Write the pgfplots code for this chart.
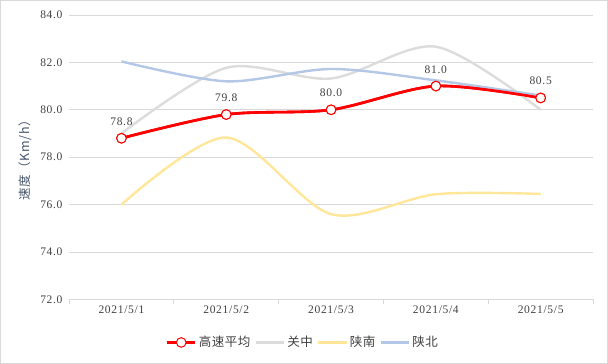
\documentclass[border=0pt]{standalone}
\usepackage{fontspec}
\setmainfont{Liberation Serif}[LetterSpace=6]
\newfontfamily\cjk{Noto Sans CJK SC}[LetterSpace=4]
\usepackage{pgfplots}
\pgfplotsset{compat=1.18}
\definecolor{cred}{HTML}{FF0000}
\definecolor{cgray}{HTML}{DCDCDC}
\definecolor{cyel}{HTML}{FFE699}
\definecolor{cblue}{HTML}{B4C7E7}
\definecolor{gridc}{HTML}{D9D9D9}
\definecolor{txt}{HTML}{404040}
\definecolor{ylab}{HTML}{44546A}
\begin{document}
\begin{tikzpicture}
\begin{axis}[
  name=ax,
  scale only axis,
  width=523pt, height=284pt,
  xmin=-0.5, xmax=4.5,
  ymin=72, ymax=84,
  ytick={72,74,...,84},
  xtick={0,1,2,3,4},
  xticklabels={2021/5/1,2021/5/2,2021/5/3,2021/5/4,2021/5/5},
  xtick pos=bottom,
  axis line style={draw=none},
  ymajorgrids,
  major grid style={gridc, line width=0.8pt},
  tick style={draw=none},
  extra x ticks={-0.5,0.5,1.5,2.5,3.5,4.5},
  extra x tick labels={},
  extra x tick style={grid=none, major tick length=5pt, tick align=outside,
     tick style={draw=gridc, line width=0.8pt}},
  /pgf/number format/assume math mode=true,
  yticklabel={\pgfmathprintnumber[fixed,fixed zerofill,precision=1]{\tick}},
  ticklabel style={font=\fontsize{11.5}{13}\selectfont, text=txt},
  xticklabel style={yshift=-3pt},
  yticklabel style={xshift=-3pt},
  ylabel={\cjk 速度（Km/h）},
  ylabel style={font=\fontsize{12.5}{14}\selectfont, text=ylab, yshift=2pt},
  legend style={at={(0.446,-0.151)}, anchor=center, draw=none, fill=none,
     legend columns=-1, font=\cjk\fontsize{12.5}{14}\selectfont, text=txt,
     /tikz/every even column/.append style={column sep=2pt}},
  legend image code/.code={
     \draw[#1] (0cm,0cm) -- (1.0cm,0cm);
     \draw[#1,mark repeat=2,mark phase=2] plot coordinates {(0cm,0cm) (0.5cm,0cm) (1.0cm,0cm)};
  },
  clip=false,
]
\addplot[cred, line width=2.6pt, smooth, mark=*, mark size=4.8pt,
  mark options={fill=white, draw=cred, line width=1pt},
  nodes near coords, point meta=explicit symbolic,
  every node near coord/.append style={font=\fontsize{11.5}{13}\selectfont, text=txt, yshift=9pt}]
  coordinates {(0,78.8)[78.8] (1,79.8)[79.8] (2,80.0)[80.0] (3,81.0)[81.0] (4,80.5)[80.5]};
\addlegendentry{高速平均}
\addplot[cgray, line width=2.4pt, smooth, mark=none]
  coordinates {(0,79.0) (1,81.77) (2,81.32) (3,82.66) (4,80.0)};
\addlegendentry{关中}
\addplot[cyel, line width=2.4pt, smooth, mark=none]
  coordinates {(0,76.0) (1,78.83) (2,75.6) (3,76.44) (4,76.45)};
\addlegendentry{陕南}
\addplot[cblue, line width=2.4pt, smooth, mark=none]
  coordinates {(0,82.04) (1,81.2) (2,81.72) (3,81.24) (4,80.6)};
\addlegendentry{陕北}
% redraw red on top
\addplot[cred, line width=2.6pt, smooth, mark=*, mark size=4.8pt,
  mark options={fill=white, draw=cred, line width=1pt}, forget plot]
  coordinates {(0,78.8) (1,79.8) (2,80.0) (3,81.0) (4,80.5)};
\end{axis}
\draw[gridc, line width=0.8pt] ([shift={(-68.5pt,-63.5pt)}]ax.south west) rectangle ([shift={(537.5pt,298.5pt)}]ax.south west);
\end{tikzpicture}
\end{document}
